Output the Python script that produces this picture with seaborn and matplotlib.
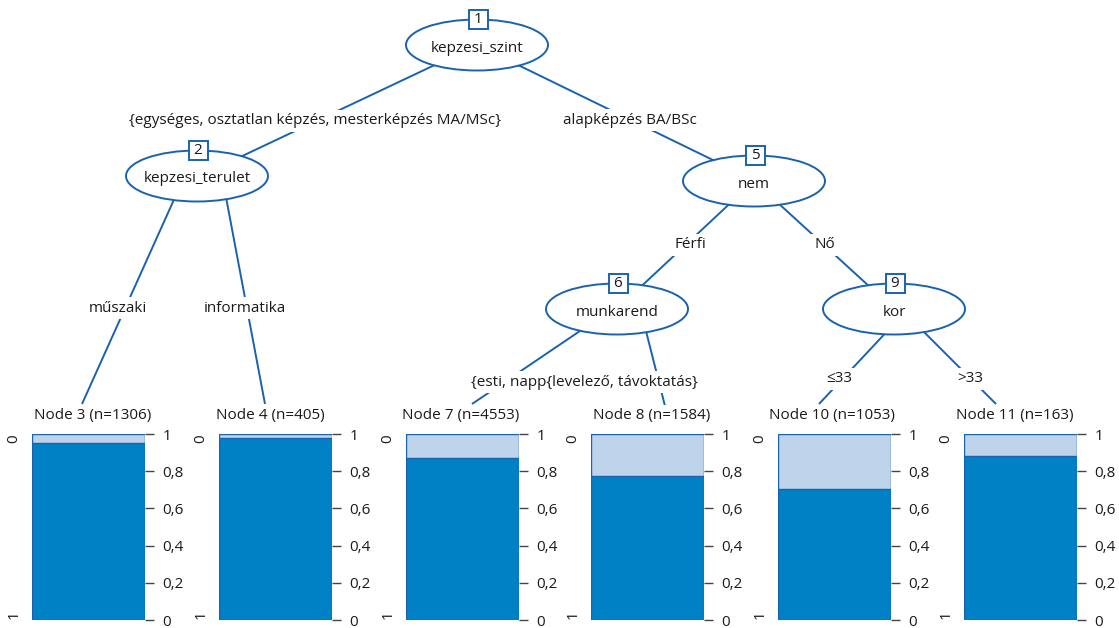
import numpy as np
import pandas as pd
import matplotlib.pyplot as plt
from matplotlib.patches import Ellipse, Rectangle
import seaborn as sns

# --- data ---
inner_ids = [1, 2, 5, 6, 9]
inner_vars = ['kepzesi_szint', 'kepzesi_terulet', 'nem', 'munkarend', 'kor']

leaf_ids = [3, 4, 7, 8, 10, 11]
leaf_n = [1306, 405, 4553, 1584, 1053, 163]
leaf_share1 = [0.95, 0.976, 0.873, 0.772, 0.704, 0.882]   # share of class "1" (dark part)

edge_labels = ['{egységes, osztatlan képzés, mesterképzés MA/MSc}', 'alapképzés BA/BSc',
               'műszaki', 'informatika', 'Férfi', 'Nő',
               '{esti, napp{levelező, távoktatás}', '≤33', '>33']

ticks = [0, 0.2, 0.4, 0.6, 0.8, 1]
tick_labels = ['0', '0,2', '0,4', '0,6', '0,8', '1']
class_labels = ['0', '1']

# --- layout (pixel coordinates, y downwards) ---
W, H = 1119, 628
inner_xy = {1: (477, 45), 2: (197, 176), 5: (754, 181), 6: (617, 309), 9: (894, 309)}
ell_w, ell_h = 142, 51
edges = [((477, 45), (200, 176)), ((477, 45), (756, 181)),
         ((184.6, 176), (82, 404)), ((222, 176), (265, 404)),
         ((754, 181), (617, 309)), ((754, 181), (894, 309)),
         ((612.5, 309), (472, 404)), ((640.4, 309), (665, 406)),
         ((908, 309), (819, 404)), ((899, 307), (996, 404))]
label_xy = [(315, 121), (630, 120), (118, 308), (245, 308), (690, 245), (825, 245),
            (584, 382), (839, 379), (970, 379)]
bar_left = [32, 219, 406, 591, 778, 964]
bar_w = 113
bar_top, bar_bot = 434, 620
header_x = [93, 270, 461, 652, 832, 1015]
header_y = 415

line_col = '#1A62AE'
dark = '#0081C6'
light = '#BDD4EB'
txt = '#1a1a1a'

sns.set_theme(style='white')
plt.rcParams['font.family'] = ['Open Sans', 'DejaVu Sans']
fs = 11

fig = plt.figure(figsize=(W / 100, H / 100), dpi=100)
ax = fig.add_axes([0, 0, 1, 1])
ax.set_xlim(0, W)
ax.set_ylim(H, 0)
ax.axis('off')

for (x0, y0), (x1, y1) in edges:
    ax.plot([x0, x1], [y0, y1], color=line_col, lw=1.4, zorder=1, solid_capstyle='butt')

for lab, (x, y) in zip(edge_labels, label_xy):
    ax.text(x, y, lab, ha='center', va='center', fontsize=fs, color=txt, zorder=3,
            bbox=dict(facecolor='white', edgecolor='none', pad=2.5))

for nid, var in zip(inner_ids, inner_vars):
    x, y = inner_xy[nid]
    ax.add_patch(Ellipse((x, y), ell_w, ell_h, facecolor='white', edgecolor=line_col,
                         lw=1.4, zorder=4))
    ax.text(x, y + 3, var, ha='center', va='center', fontsize=fs, color=txt, zorder=5)
    ax.add_patch(Rectangle((x + 1 - 9.5, y - ell_h / 2 - 9.5), 19, 19, facecolor='white',
                           edgecolor=line_col, lw=1.4, zorder=6))
    ax.text(x + 1, y - ell_h / 2, str(nid), ha='center', va='center', fontsize=fs,
            color=txt, zorder=7)

for i, (nid, n, p) in enumerate(zip(leaf_ids, leaf_n, leaf_share1)):
    ax.text(header_x[i], header_y, f'Node {nid} (n={n})', ha='center', va='center',
            fontsize=fs, color=txt, zorder=3,
            bbox=dict(facecolor='white', edgecolor='none', pad=2))
    ax.text(bar_left[i] - 18, bar_top + 5, class_labels[0], rotation=90, ha='center',
            va='center', fontsize=fs, color=txt)
    ax.text(bar_left[i] - 18, bar_bot - 5, class_labels[1], rotation=90, ha='center',
            va='center', fontsize=fs, color=txt)

    bax = fig.add_axes([bar_left[i] / W, (H - bar_bot) / H, bar_w / W,
                        (bar_bot - bar_top) / H])
    df = pd.DataFrame({'node': [str(nid)], 'total': [1.0], 'share': [p]})
    sns.barplot(data=df, x='node', y='total', color=light, saturation=1, width=1,
                edgecolor=line_col, linewidth=1, ax=bax)
    sns.barplot(data=df, x='node', y='share', color=dark, saturation=1, width=1,
                edgecolor=line_col, linewidth=1, ax=bax)
    bax.set_xlim(-0.5, 0.5)
    bax.set_ylim(0, 1)
    bax.set_xlabel('')
    bax.set_ylabel('')
    bax.set_xticks([])
    bax.yaxis.tick_right()
    bax.set_yticks(ticks)
    bax.set_yticklabels(tick_labels, fontsize=fs, color=txt)
    bax.tick_params(axis='y', right=True, length=6.5, width=1, color='#444444', pad=6)
    for s in bax.spines.values():
        s.set_visible(False)
    bax.patch.set_alpha(0)

fig.savefig('out.png', dpi=100)
